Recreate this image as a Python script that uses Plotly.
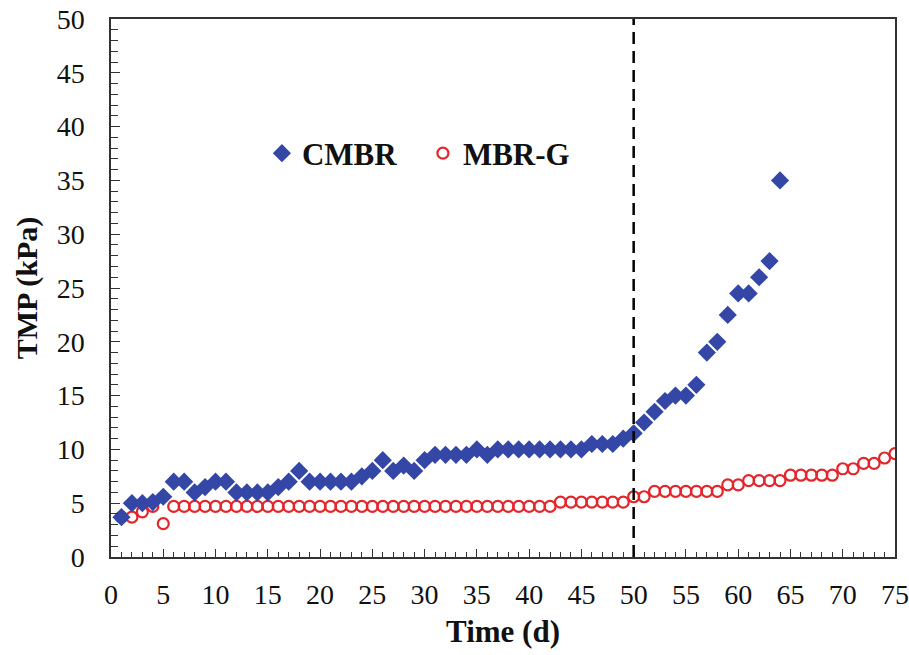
import plotly.graph_objects as go

days_cmbr = list(range(1, 65))
tmp_cmbr = [3.7, 5.0, 5.0, 5.1, 5.6, 7.0, 7.0, 6.0, 6.5, 7.0,
            7.0, 6.0, 6.0, 6.0, 6.0, 6.5, 7.0, 8.0, 7.0, 7.0,
            7.0, 7.0, 7.0, 7.5, 8.0, 9.0, 8.0, 8.5, 8.0, 9.0,
            9.5, 9.5, 9.5, 9.5, 10.0, 9.5, 10.0, 10.0, 10.0, 10.0,
            10.0, 10.0, 10.0, 10.0, 10.0, 10.5, 10.5, 10.5, 11.0, 11.5,
            12.5, 13.5, 14.5, 15.0, 15.0, 16.0, 19.0, 20.0, 22.5, 24.5,
            24.5, 26.0, 27.5, 35.0]

days_mbrg = list(range(1, 76))
tmp_mbrg = [3.7, 3.7, 4.2, 4.7, 3.1, 4.7, 4.7, 4.7, 4.7, 4.7,
            4.7, 4.7, 4.7, 4.7, 4.7, 4.7, 4.7, 4.7, 4.7, 4.7,
            4.7, 4.7, 4.7, 4.7, 4.7, 4.7, 4.7, 4.7, 4.7, 4.7,
            4.7, 4.7, 4.7, 4.7, 4.7, 4.7, 4.7, 4.7, 4.7, 4.7,
            4.7, 4.7, 5.1, 5.1, 5.1, 5.1, 5.1, 5.1, 5.1, 5.6,
            5.6, 6.1, 6.1, 6.1, 6.1, 6.1, 6.1, 6.1, 6.7, 6.7,
            7.1, 7.1, 7.1, 7.1, 7.6, 7.6, 7.6, 7.6, 7.6, 8.2,
            8.2, 8.7, 8.7, 9.2, 9.6]

x_ticks = list(range(0, 76, 5))
y_ticks = list(range(0, 51, 5))
divider_day = 50

FONT = "Liberation Serif"

fig = go.Figure()
fig.add_trace(go.Scatter(
    x=days_mbrg, y=tmp_mbrg, mode="markers", name="MBR-G",
    marker=dict(symbol="circle-open", size=11, color="#e3262b",
                line=dict(width=2.2, color="#e3262b")),
))
fig.add_trace(go.Scatter(
    x=days_cmbr, y=tmp_cmbr, mode="markers", name="CMBR",
    marker=dict(symbol="diamond", size=14, color="#3447a6"),
))

fig.add_shape(type="line", x0=divider_day, x1=divider_day, y0=0, y1=50,
              xref="x", yref="y",
              line=dict(color="black", width=2.5, dash="12px,7px"))

axis_common = dict(
    showgrid=False, zeroline=False, showline=True, linecolor="#333",
    linewidth=1.5, mirror=True, ticks="inside", tickcolor="#333",
    automargin=False, ticklabeloverflow="allow",
    tickfont=dict(family=FONT, size=28, color="#111"),
)

fig.update_xaxes(
    range=[0, 75], tickvals=x_ticks, ticklen=8, tickwidth=1.2,
    ticklabelstandoff=12,
    minor=dict(dtick=1, ticks="inside", ticklen=5, tickcolor="#333", tickwidth=1),
    title=dict(text="<b>Time (d)</b>", font=dict(family=FONT, size=31, color="#111"), standoff=11),
    **axis_common,
)
fig.update_yaxes(
    range=[0, 50], tickvals=y_ticks, ticklen=9, tickwidth=1.2,
    ticklabelstandoff=19,
    minor=dict(dtick=1, ticks="inside", ticklen=7, tickcolor="#333", tickwidth=1),
    title=dict(text="<b>TMP (kPa)</b>", font=dict(family=FONT, size=30, color="#111"), standoff=10),
    **axis_common,
)

fig.update_layout(
    width=909, height=655,
    margin=dict(l=111, r=14, t=19, b=98),
    plot_bgcolor="white", paper_bgcolor="white",
    showlegend=True,
    legend=dict(
        orientation="h", x=0.1925, y=0.75, xanchor="left", yanchor="middle",
        traceorder="reversed",
        font=dict(family=FONT, size=31, color="#111", weight="bold"),
        bgcolor="rgba(0,0,0,0)", itemwidth=30, entrywidth=116,
    ),
)

fig.write_html("out.html", config={"displayModeBar": False},
               post_script="document.body.style.margin='0';document.body.style.overflow='hidden';")
